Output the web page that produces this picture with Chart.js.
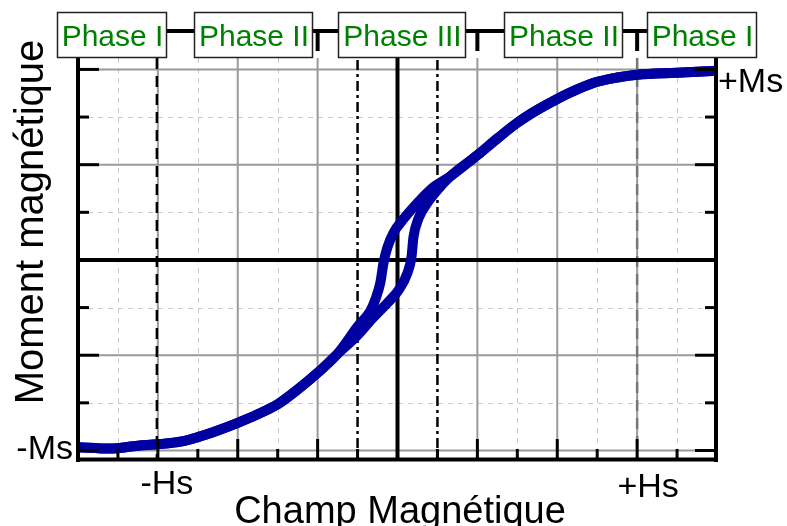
<!DOCTYPE html>
<html>
<head>
<meta charset="utf-8">
<script src="https://cdn.jsdelivr.net/npm/chart.js@4"></script>
<style>
  body { margin: 0; background: #fff; }
  canvas { display: block; }
</style>
</head>
<body>
<canvas id="loopChart" width="787" height="526"></canvas>
<script>
// values, field in grid units (Hs = 6), moment in grid units (Ms ~ 4)

// both branches share this low field part
var lowerField = [-8.0, -7.2, -6.5, -6.0, -5.4, -5.0, -4.5, -4.0, -3.5, -3.0, -2.5, -2.0, -1.5];
var lowerMoment = [-3.93, -3.96, -3.9, -3.87, -3.81, -3.72, -3.58, -3.42, -3.24, -3.03, -2.72, -2.37, -1.97];

// branch that stays on the right side of the origin
var risingField = [-1.0, -0.62, -0.25, 0.03, 0.25, 0.35, 0.4, 0.53, 0.75, 1.0];
var risingMoment = [-1.58, -1.22, -0.9, -0.63, -0.27, 0.06, 0.48, 0.88, 1.2, 1.47];

// branch that stays on the left side of the origin
var fallingField = [-1.0, -0.68, -0.55, -0.43, -0.35, -0.25, -0.1, 0.13, 0.5, 0.9];
var fallingMoment = [-1.4, -1.07, -0.82, -0.48, -0.06, 0.27, 0.57, 0.84, 1.2, 1.53];

// both branches share this high field part
var upperField = [1.33, 2.0, 2.5, 3.0, 3.5, 4.0, 4.5, 5.0, 5.5, 6.0, 7.0, 7.5, 8.0];
var upperMoment = [1.76, 2.2, 2.55, 2.88, 3.15, 3.38, 3.58, 3.74, 3.83, 3.89, 3.93, 3.95, 3.97];

// grid and labels
var majorField = [-6, -4, -2, 2, 4, 6];
var minorField = [-7, -5, -3, 3, 5, 7];
var phaseField = [-1, 1];
var majorMoment = [-4, -2, 2, 4];
var minorMoment = [-3, -1, 1, 3];
var hsField = [-6, 6];
var hsLabels = ['-Hs', '+Hs'];
var msLabels = ['-Ms', '+Ms'];
var phaseLabels = ['Phase I', 'Phase II', 'Phase III', 'Phase II', 'Phase I'];

var font = "'Liberation Sans', Arial, sans-serif";

function toPoints(fields, moments) {
    var pts = [];
    for (var i = 0; i < fields.length; i++) {
        pts.push({ x: fields[i], y: moments[i] });
    }
    return pts;
}

function branch(midField, midMoment) {
    return toPoints(lowerField.concat(midField, upperField), lowerMoment.concat(midMoment, upperMoment));
}

function line(ctx, x1, y1, x2, y2, color, width, dash) {
    ctx.save();
    ctx.strokeStyle = color;
    ctx.lineWidth = width;
    ctx.setLineDash(dash || []);
    ctx.beginPath();
    ctx.moveTo(x1, y1);
    ctx.lineTo(x2, y2);
    ctx.stroke();
    ctx.restore();
}

// grid lines under the loop
var gridPlugin = {
    id: 'grid',
    beforeDatasetsDraw: function (chart) {
        var ctx = chart.ctx;
        var a = chart.chartArea;
        var xs = chart.scales.x;
        var ys = chart.scales.y;
        var i, px, py;

        for (i = 0; i < minorField.length; i++) {
            px = Math.round(xs.getPixelForValue(minorField[i])) + 0.5;
            line(ctx, px, a.top, px, a.bottom, '#c8c8c8', 1, [5, 5]);
        }
        for (i = 0; i < minorMoment.length; i++) {
            py = Math.round(ys.getPixelForValue(minorMoment[i])) + 0.5;
            line(ctx, a.left, py, a.right, py, '#c8c8c8', 1, [5, 5]);
        }
        for (i = 0; i < majorField.length; i++) {
            px = xs.getPixelForValue(majorField[i]);
            line(ctx, px, a.top, px, a.bottom, '#9a9a9a', 2);
        }
        for (i = 0; i < majorMoment.length; i++) {
            py = ys.getPixelForValue(majorMoment[i]);
            line(ctx, a.left, py, a.right, py, '#9a9a9a', 2);
        }
        // -Hs and +Hs markers
        px = xs.getPixelForValue(hsField[0]) - 1;
        line(ctx, px, a.top, px, a.bottom, '#000', 2.5, [11, 7]);
        px = xs.getPixelForValue(hsField[1]);
        line(ctx, px, a.top, px, a.bottom, '#777', 2.5, [11, 7]);
        // phase III limits
        for (i = 0; i < phaseField.length; i++) {
            px = xs.getPixelForValue(phaseField[i]);
            line(ctx, px, a.top + 2, px, a.bottom, '#000', 2.5, [10, 4, 3, 4]);
        }
        // zero lines
        px = xs.getPixelForValue(0);
        line(ctx, px, a.top, px, a.bottom, '#000', 4);
        py = ys.getPixelForValue(0);
        line(ctx, a.left, py, a.right, py, '#000', 4);
    }
};

// axes, ticks, labels and phase boxes on top
var framePlugin = {
    id: 'frame',
    afterDraw: function (chart) {
        var ctx = chart.ctx;
        var a = chart.chartArea;
        var xs = chart.scales.x;
        var ys = chart.scales.y;
        var v, px, py, len;

        line(ctx, a.left, a.top, a.left, a.bottom + 2, '#000', 4);
        line(ctx, a.right - 1, a.top, a.right - 1, a.bottom + 2, '#000', 4);
        line(ctx, a.left - 2, a.bottom - 0.5, a.right + 1, a.bottom - 0.5, '#000', 4);

        // inward ticks
        for (v = -4; v <= 4; v++) {
            py = ys.getPixelForValue(v);
            len = (v % 2 === 0) ? 21 : 11;
            line(ctx, a.left, py, a.left + len, py, '#000', 3);
            line(ctx, a.right - 1, py, a.right - 1 - len, py, '#000', 3);
        }
        for (v = -7; v <= 7; v++) {
            px = xs.getPixelForValue(v);
            len = (v % 2 === 0) ? 21 : 11;
            line(ctx, px, a.bottom, px, a.bottom - len, '#000', 3);
        }

        ctx.save();
        ctx.fillStyle = '#000';
        ctx.font = '34px ' + font;
        ctx.textBaseline = 'alphabetic';
        ctx.textAlign = 'center';
        ctx.fillText(hsLabels[0], xs.getPixelForValue(hsField[0]) + 9, 494);
        ctx.fillText(hsLabels[1], xs.getPixelForValue(hsField[1]) + 11, 497);
        ctx.textAlign = 'right';
        ctx.fillText(msLabels[0], a.left - 5, ys.getPixelForValue(-3.93) + 12);
        ctx.textAlign = 'left';
        ctx.fillText(msLabels[1], a.right + 1, ys.getPixelForValue(3.97) + 21);

        // axis titles
        ctx.font = '38px ' + font;
        ctx.textAlign = 'center';
        ctx.fillText('Champ Magnétique', 400, 523);
        ctx.font = '40px ' + font;
        ctx.translate(43, 222);
        ctx.rotate(-Math.PI / 2);
        ctx.fillText('Moment magnétique', 0, 0);
        ctx.restore();

        // phase boxes along the top, joined by a bar
        var boxes = [[57, 166], [194, 312], [338, 465], [504, 622], [647, 756]];
        var drops = [-2, 2, 6];
        line(ctx, boxes[0][1], 31, boxes[4][0], 31, '#000', 4);
        for (var d = 0; d < drops.length; d++) {
            px = xs.getPixelForValue(drops[d]);
            line(ctx, px, 31, px, 51, '#000', 4);
        }
        ctx.save();
        ctx.font = '30px ' + font;
        ctx.textAlign = 'center';
        for (var b = 0; b < boxes.length; b++) {
            var x1 = boxes[b][0], x2 = boxes[b][1];
            ctx.fillStyle = '#fff';
            ctx.fillRect(x1, 12, x2 - x1, 46);
            ctx.strokeStyle = '#222';
            ctx.lineWidth = 1.5;
            ctx.strokeRect(x1 + 0.5, 12.5, x2 - x1, 45);
            ctx.fillStyle = '#008000';
            ctx.fillText(phaseLabels[b], (x1 + x2) / 2 + 1, 46);
        }
        ctx.restore();
    }
};

var canvas = document.getElementById('loopChart');
var loopChart = new Chart(canvas, {
    type: 'scatter',
    data: {
        datasets: [
            {
                data: branch(risingField, risingMoment),
                showLine: true,
                borderColor: '#0000a0',
                borderWidth: 10,
                pointRadius: 0,
                cubicInterpolationMode: 'monotone'
            },
            {
                data: branch(fallingField, fallingMoment),
                showLine: true,
                borderColor: '#0000a0',
                borderWidth: 10,
                pointRadius: 0,
                cubicInterpolationMode: 'monotone'
            }
        ]
    },
    options: {
        responsive: false,
        animation: false,
        layout: { padding: { left: 78, right: 70, top: 58, bottom: 66 } },
        plugins: { legend: { display: false }, tooltip: { enabled: false } },
        scales: {
            x: { type: 'linear', min: -8, max: 8, display: false },
            y: { type: 'linear', min: -4.2, max: 4.24, display: false }
        }
    },
    plugins: [gridPlugin, framePlugin]
});
</script>
</body>
</html>
